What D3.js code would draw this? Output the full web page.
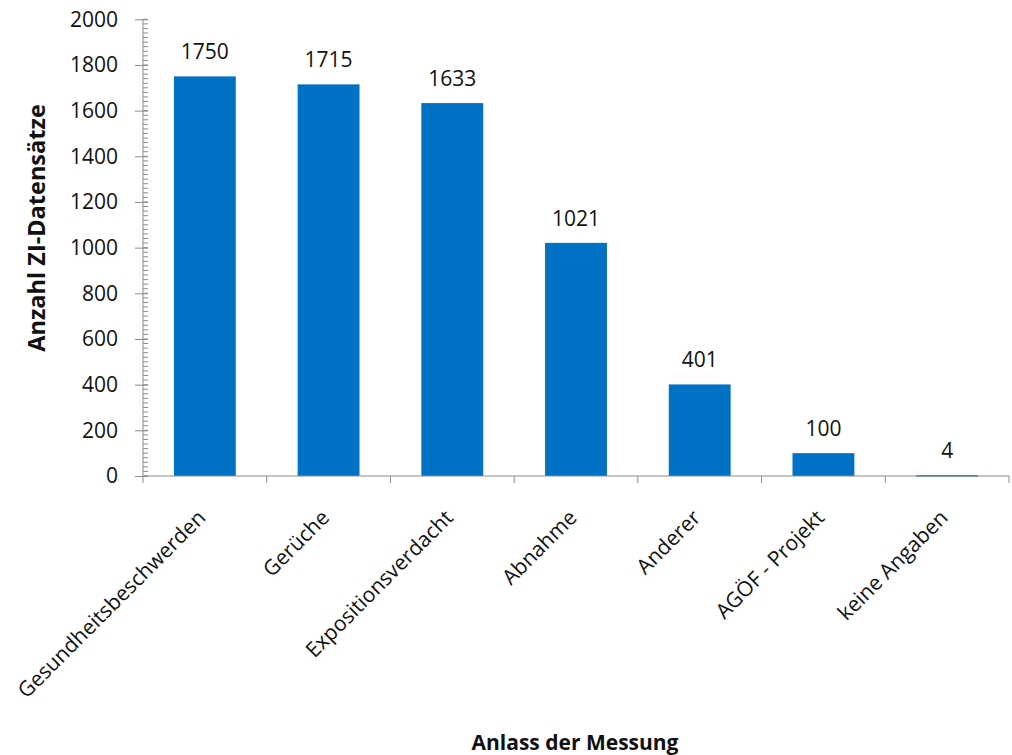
<!DOCTYPE html>
<html><head><meta charset="utf-8">
<script src="https://cdn.jsdelivr.net/npm/d3@7"></script>
<style>body{margin:0;background:#fff}svg{display:block}text{font-family:"Open Sans",sans-serif;fill:#111}</style>
</head><body>
<svg id="c" width="1012" height="755"></svg>
<script>
const categories = ["Gesundheitsbeschwerden","Gerüche","Expositionsverdacht","Abnahme","Anderer","AGÖF - Projekt","keine Angaben"];
const values = [1750,1715,1633,1021,401,100,4];
const yTicks = [0,200,400,600,800,1000,1200,1400,1600,1800,2000];
const yTitle = "Anzahl ZI-Datensätze";
const xTitle = "Anlass der Messung";

const svg = d3.select("#c");
const x0 = 143, x1 = 1009, yTop = 19.3, yBot = 476;
const x = d3.scaleBand().domain(categories).range([x0, x1]).paddingInner(0.5).paddingOuter(0.25);
const y = d3.scaleLinear().domain([0,2000]).range([yBot, yTop]);
const axisColor = "#8c8c8c";
const fs = 21;

// bars
svg.append("g").selectAll("rect").data(values).join("rect")
  .attr("x", (d,i)=>x(categories[i]))
  .attr("width", x.bandwidth())
  .attr("y", d=>y(d))
  .attr("height", d=>Math.max(yBot - y(d), 1.5))
  .attr("fill", "#0072C6");

// value labels
svg.append("g").selectAll("text").data(values).join("text")
  .attr("x", (d,i)=>x(categories[i]) + x.bandwidth()/2)
  .attr("y", d=>y(d) - 17)
  .attr("text-anchor","middle")
  .attr("font-size", fs)
  .text(d=>d);

// y axis
const minor = d3.range(0, 2001, 20);
const yg = svg.append("g").attr("transform", `translate(${x0},0)`);
yg.selectAll("line.minor").data(minor).join("line")
  .attr("x1",0).attr("x2",5).attr("y1",d=>y(d)).attr("y2",d=>y(d))
  .attr("stroke",axisColor).attr("stroke-width",1);
const yAxis = d3.axisLeft(y).tickValues(yTicks).tickSize(8).tickPadding(17).tickFormat(d3.format("d"));
yg.call(yAxis);
yg.select(".domain").attr("stroke",axisColor).attr("d",`M0,${yTop}V${yBot}`);
yg.selectAll(".tick line").attr("stroke",axisColor).attr("x2",-8).attr("x1",5);
yg.selectAll(".tick text").attr("font-size",fs).attr("font-family","Open Sans").attr("fill","#111");

// x axis
const xg = svg.append("g").attr("transform",`translate(0,${yBot})`);
xg.append("line").attr("x1",x0).attr("x2",x1).attr("y1",0).attr("y2",0).attr("stroke",axisColor);
const bounds = d3.range(0, categories.length+1).map(i=>x0 + i*(x1-x0)/categories.length);
xg.selectAll("line.t").data(bounds).join("line")
  .attr("x1",d=>d).attr("x2",d=>d).attr("y1",0).attr("y2",7).attr("stroke",axisColor);
xg.selectAll("text").data(categories).join("text")
  .attr("transform", d=>`translate(${x(d)+x.bandwidth()/2+2},${43}) rotate(-45)`)
  .attr("text-anchor","end")
  .attr("font-size",fs)
  .text(d=>d);

// titles
svg.append("text").attr("transform","translate(45,228) rotate(-90)")
  .attr("text-anchor","middle").attr("font-size",23.5).attr("font-weight","bold").text(yTitle);
svg.append("text").attr("x",575).attr("y",750)
  .attr("text-anchor","middle").attr("font-size",21).attr("font-weight","bold").text(xTitle);
</script>
</body></html>
